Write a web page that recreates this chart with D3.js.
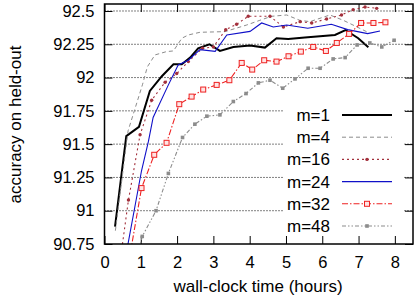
<!DOCTYPE html>
<html>
<head>
<meta charset="utf-8">
<script src="https://cdn.jsdelivr.net/npm/d3@7"></script>
<style>
  body { margin: 0; background: #fff; }
  svg { display: block; font-family: "Liberation Sans", Arial, sans-serif; }
</style>
</head>
<body>
<div id="chart"></div>
<script>
// hours, accuracy pairs
const m1 = [[0.29,90.88],[0.6,91.56],[0.95,91.63],[1.25,91.9],[1.58,92.01],[1.9,92.1],[2.13,92.1],[2.36,92.15],[2.58,92.22],[2.89,92.25],[3.18,92.2],[3.55,92.23],[4.01,92.24],[4.42,92.225],[4.74,92.295],[5.06,92.29],[5.52,92.3],[6.35,92.32],[6.64,92.357],[6.99,92.295],[7.27,92.227]];
const m4 = [[0.3,90.85],[0.65,91.6],[1.05,91.95],[1.18,92.08],[1.39,92.17],[1.71,92.195],[1.9,92.2],[2.13,92.295],[2.31,92.32],[2.63,92.34],[3.32,92.345],[3.92,92.395],[4.28,92.43],[4.6,92.46],[5.02,92.47],[5.38,92.43],[5.66,92.42],[6.21,92.47],[6.58,92.43],[7.22,92.345]];
const m16 = [[0.42,90.6],[0.66,91.08],[0.98,91.57],[1.3,91.83],[1.67,91.965],[1.99,92.03],[2.31,92.12],[2.7,92.22],[3.0,92.23],[3.34,92.36],[3.64,92.4],[3.96,92.46],[4.56,92.46],[4.93,92.38],[5.39,92.42],[5.71,92.41],[6.12,92.44],[6.53,92.47],[6.85,92.51],[7.18,92.53],[7.5,92.52]];
const m24 = [[0.6,90.68],[1.02,91.3],[1.21,91.52],[1.34,91.7],[1.76,91.945],[2.03,92.095],[2.31,92.13],[2.63,92.21],[3.05,92.197],[3.37,92.32],[4.01,92.347],[4.33,92.41],[4.65,92.38],[5.02,92.395],[5.6,92.37],[6.25,92.4],[6.7,92.36],[7.25,92.33],[7.59,92.35]];
const m32 = [[0.66,90.6],[1.02,91.17],[1.37,91.42],[1.71,91.51],[2.06,91.8],[2.4,91.857],[2.72,91.91],[3.09,91.945],[3.44,91.98],[3.78,92.11],[4.07,92.06],[4.4,92.13],[4.74,92.12],[5.07,92.16],[5.41,92.195],[5.75,92.23],[6.1,92.2],[6.4,92.26],[6.74,92.328],[7.07,92.41],[7.41,92.41],[7.74,92.415]];
const m48 = [[0.7,90.4],[1.04,90.807],[1.42,91.0],[1.76,91.28],[2.15,91.55],[2.49,91.65],[2.82,91.71],[3.18,91.72],[3.55,91.82],[3.9,91.88],[4.24,91.96],[4.56,91.98],[4.91,91.92],[5.25,91.99],[5.61,92.07],[5.94,92.07],[6.3,92.14],[6.63,92.15],[6.96,92.245],[7.31,92.26],[7.64,92.23],[7.98,92.28]];

const seriesNames = ["m=1","m=4","m=16","m=24","m=32","m=48"];
const xTicks = [0,1,2,3,4,5,6,7,8];
const yTicks = [90.75,91,91.25,91.5,91.75,92,92.25,92.5];

// drawing styles per series
const styles = [
  {data: m1,  color: "#000000", width: 2,   dash: null,              marker: null},
  {data: m4,  color: "#8c8c8c", width: 1,   dash: "4,3",             marker: null},
  {data: m16, color: "#a3303c", width: 1.1, dash: "2,3",             marker: "dot"},
  {data: m24, color: "#1010c8", width: 1.1, dash: null,              marker: null},
  {data: m32, color: "#ee2222", width: 1.1, dash: "6,2,1.5,2",       marker: "square"},
  {data: m48, color: "#8c8c8c", width: 1.1, dash: "4,2,1.5,2,1.5,2", marker: "fsquare"}
];

const W = 418, H = 298;
const pl = 104.5, pr = 413, pt = 4, pb = 244;

const x = d3.scaleLinear().domain([0, 8.5]).range([pl, pr]);
const y = d3.scaleLinear().domain([90.75, 92.5525]).range([pb, pt]);

const svg = d3.select("#chart").append("svg")
    .attr("width", W)
    .attr("height", H);

svg.append("defs").append("clipPath").attr("id", "plotclip")
    .append("rect")
    .attr("x", pl).attr("y", pt)
    .attr("width", pr - pl).attr("height", pb - pt);

// dotted horizontal grid
svg.append("g").selectAll("line")
    .data(yTicks.slice(1))
    .enter().append("line")
    .attr("x1", pl).attr("x2", pr)
    .attr("y1", d => y(d)).attr("y2", d => y(d))
    .attr("stroke", "#000")
    .attr("stroke-width", 1)
    .attr("stroke-dasharray", "1,2");

// axes, ticks pointing inward
const fmtY = d => String(d);
const gLeft = svg.append("g").attr("transform", "translate(" + pl + ",0)")
    .call(d3.axisLeft(y).tickValues(yTicks).tickFormat(fmtY).tickSize(-8).tickPadding(10));
const gRight = svg.append("g").attr("transform", "translate(" + pr + ",0)")
    .call(d3.axisRight(y).tickValues(yTicks).tickFormat("").tickSize(-8));
const gBottom = svg.append("g").attr("transform", "translate(0," + pb + ")")
    .call(d3.axisBottom(x).tickValues(xTicks).tickFormat(d3.format("d")).tickSize(-8).tickPadding(12));
const gTop = svg.append("g").attr("transform", "translate(0," + pt + ")")
    .call(d3.axisTop(x).tickValues(xTicks).tickFormat("").tickSize(-8));

[gLeft, gRight, gBottom, gTop].forEach(g => {
    g.select(".domain").remove();
    g.selectAll(".tick line").attr("stroke", "#000").attr("stroke-width", 1);
    g.selectAll(".tick text").attr("fill", "#000").style("font-size", "16.5px")
        .style("font-family", "'Liberation Sans', Arial, sans-serif");
});

// data lines
const line = d3.line().x(d => x(d[0])).y(d => y(d[1]));
const plot = svg.append("g").attr("clip-path", "url(#plotclip)");

function drawMarker(g, kind, cx, cy, color) {
    if (kind === "dot") {
        g.append("circle").attr("cx", cx).attr("cy", cy).attr("r", 1.7).attr("fill", color);
    } else if (kind === "square") {
        g.append("rect").attr("x", cx - 2.5).attr("y", cy - 2.5).attr("width", 5).attr("height", 5)
            .attr("fill", "#ffe4e4").attr("stroke", color).attr("stroke-width", 1);
    } else if (kind === "fsquare") {
        g.append("rect").attr("x", cx - 1.8).attr("y", cy - 1.8).attr("width", 3.6).attr("height", 3.6)
            .attr("fill", color);
    }
}

styles.forEach(s => {
    plot.append("path")
        .datum(s.data)
        .attr("d", line)
        .attr("fill", "none")
        .attr("stroke", s.color)
        .attr("stroke-width", s.width)
        .attr("stroke-dasharray", s.dash);
    if (s.marker) {
        s.data.forEach(d => drawMarker(plot, s.marker, x(d[0]), y(d[1]), s.color));
    }
});

// key with opaque background
const key = svg.append("g");
key.append("rect")
    .attr("x", 283).attr("y", 104).attr("width", 120).attr("height", 132)
    .attr("fill", "#fff");
styles.forEach((s, i) => {
    const ky = 115 + i * 22.2;
    key.append("text")
        .attr("x", 330).attr("y", ky).attr("dy", "0.35em")
        .attr("text-anchor", "end")
        .style("font-size", "17px")
        .text(seriesNames[i]);
    key.append("line")
        .attr("x1", 342).attr("x2", 392).attr("y1", ky).attr("y2", ky)
        .attr("stroke", s.color)
        .attr("stroke-width", s.width)
        .attr("stroke-dasharray", s.dash);
    if (s.marker) drawMarker(key, s.marker, 367, ky, s.color);
});

// border
svg.append("rect")
    .attr("x", pl).attr("y", pt)
    .attr("width", pr - pl).attr("height", pb - pt)
    .attr("fill", "none").attr("stroke", "#000").attr("stroke-width", 1.5);

// axis titles
svg.append("text")
    .attr("x", 258).attr("y", 292)
    .attr("text-anchor", "middle")
    .style("font-size", "17px")
    .text("wall-clock time (hours)");
svg.append("text")
    .attr("transform", "translate(20.5,124.5) rotate(-90)")
    .attr("text-anchor", "middle")
    .style("font-size", "17px")
    .text("accuracy on held-out");
</script>
</body>
</html>
